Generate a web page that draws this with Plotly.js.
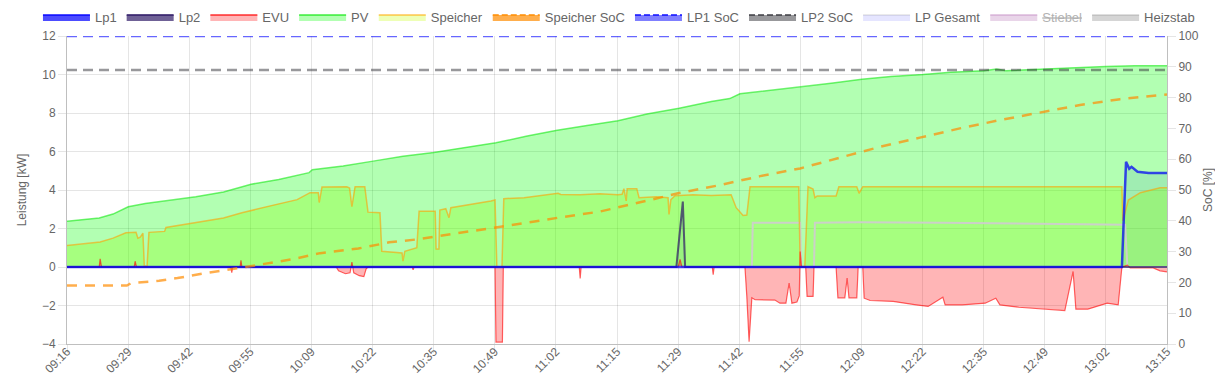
<!DOCTYPE html>
<html>
<head>
<meta charset="utf-8">
<script src="https://cdn.plot.ly/plotly-3.0.1.min.js"></script>
<style>html,body{margin:0;padding:0;background:#fff;}#chart{width:1215px;height:378px;}</style>
</head>
<body>
<div id="chart"></div>
<script>
// x values: minutes after 09:16
const tickLabels = ["09:16","09:29","09:42","09:55","10:09","10:22","10:35","10:49","11:02","11:15","11:29","11:42","11:55","12:09","12:22","12:35","12:49","13:02","13:15"];
const totalMinutes = 239;

const lp1T = [0, 229.2, 230.1, 230.8, 231.3, 232.6, 235, 239];
const lp1V = [0, 0, 5.47, 5.1, 5.2, 4.95, 4.88, 4.88];

const lp2T = [0, 132.4, 133.8, 134.3, 239];
const lp2V = [0, 0, 3.4, 0, 0];

const evuT = [0, 7.0, 7.2, 7.5, 14.6, 14.8, 15.1, 35.6, 35.8, 36.0, 37.6, 37.8, 38.0, 58.5, 59, 60.5, 61.5, 61.9, 62.3, 63.5, 64.5, 65.0, 65.4, 75.0, 75.2, 75.4, 93.0, 93.2, 94.6, 94.8, 111.3, 111.5, 111.7, 132.8, 133.2, 133.6, 140.2, 140.4, 140.6, 147.3, 147.7, 148.2, 148.8, 149.5, 153.8, 154.9, 156.2, 156.9, 157.5, 158.6, 159.1, 159.3, 159.6, 160.5, 160.8, 162.1, 162.3, 167.1, 167.5, 169.0, 169.5, 169.9, 171.6, 171.9, 172.9, 173.2, 174.5, 179.5, 184.5, 187.1, 190.3, 190.8, 194.5, 199.5, 201.8, 202.7, 206.8, 213.6, 216.8, 218.6, 219.2, 221.8, 226.0, 228.4, 229.2, 230.4, 231, 236, 237.5, 239];
const evuV = [0, 0, 0.42, 0, 0, 0.3, 0, 0, -0.3, 0, 0, 0.35, 0, 0, -0.2, -0.35, -0.3, 0.25, -0.3, -0.45, -0.5, -0.1, 0, 0, -0.15, 0, 0, -3.9, -3.9, 0, 0, -0.6, 0, 0, 0.4, 0, 0, -0.4, 0, 0, -1.5, -3.88, -1.6, -1.7, -1.72, -1.88, -1.88, -0.83, -1.88, -1.82, -1.5, 0.8, 0, 0, -1.53, -1.53, 0, 0, -1.6, -1.6, -0.57, -1.6, -1.6, 0, 0, -1.62, -1.74, -1.79, -1.97, -2.05, -1.57, -1.97, -1.97, -1.88, -1.62, -1.97, -2.09, -2.19, -2.26, -0.23, -2.19, -2.19, -1.88, -1.97, 0, 0.1, -0.05, -0.05, -0.2, -0.25];

const pvT = [0, 3, 7, 10, 13.3, 17, 23, 28, 34, 40, 46, 52.6, 53.3, 60, 66.5, 73, 79.7, 86, 93.2, 100, 106.5, 113, 119.7, 126, 133, 140, 144, 146.2, 152, 159.5, 166, 172.7, 179, 186, 192, 199.2, 202, 204, 212.5, 220.7, 225.7, 232, 239];
const pvV = [2.38, 2.45, 2.55, 2.75, 3.13, 3.3, 3.48, 3.65, 3.9, 4.3, 4.55, 4.9, 5.05, 5.25, 5.5, 5.75, 5.95, 6.2, 6.45, 6.8, 7.1, 7.35, 7.6, 7.95, 8.25, 8.6, 8.75, 9.0, 9.15, 9.35, 9.55, 9.75, 9.9, 10.0, 10.12, 10.2, 10.28, 10.2, 10.3, 10.38, 10.42, 10.45, 10.45];

const spT = [0, 4, 7.2, 10, 12.8, 15.0, 15.4, 15.9, 16.5, 16.8, 17.4, 17.8, 21.2, 21.5, 28, 34, 38, 45.2, 50, 52.8, 54.6, 54.8, 55.2, 55.4, 60.8, 61.4, 61.9, 62.4, 62.6, 64.7, 65.4, 68.0, 68.4, 72.8, 73.0, 73.4, 76.0, 76.5, 80.0, 80.2, 80.8, 81.0, 82.3, 83.0, 83.4, 92.1, 93.0, 93.4, 94.5, 94.9, 99.3, 106.7, 107.3, 111.5, 115.8, 119.7, 120.6, 121.0, 121.5, 121.7, 123.8, 124.3, 128, 130.6, 130.8, 131.2, 132.1, 136, 140, 144.3, 145.4, 146.9, 147.7, 148.4, 159.0, 159.3, 160.3, 161.0, 162.1, 162.5, 163.0, 167.1, 167.7, 171.6, 172.1, 172.9, 229.2, 229.4, 230.6, 233.2, 237.5, 239];
const spV = [1.12, 1.2, 1.3, 1.5, 1.78, 1.8, 1.5, 1.55, 1.75, 0.05, 0.05, 1.8, 1.85, 2.05, 2.3, 2.55, 2.82, 3.25, 3.5, 3.86, 3.86, 3.35, 3.85, 4.15, 4.17, 4.1, 3.13, 4.1, 4.17, 4.17, 2.85, 2.82, 0.82, 0.73, 0.3, 0.82, 1.0, 2.9, 2.9, 0.94, 0.94, 2.96, 3.03, 2.56, 3.08, 3.43, 3.48, 0, 0, 3.55, 3.6, 3.83, 3.77, 3.75, 3.8, 3.75, 3.78, 4.07, 3.43, 4.07, 4.07, 3.6, 3.65, 3.6, 2.73, 3.5, 3.7, 3.75, 3.72, 3.75, 3.08, 2.68, 2.7, 4.17, 4.17, 0.03, 0.03, 4.17, 4.05, 3.6, 3.69, 3.69, 4.17, 4.17, 3.83, 4.17, 4.17, 2.4, 3.48, 3.86, 4.12, 4.12];

const spSocT = [0, 13, 14, 20, 24, 30, 38.8, 44, 48.9, 55, 63.3, 70, 76.3, 85, 92.1, 100, 106.7, 115.8, 124.5, 133, 141.9, 150.6, 159.3, 168, 176.6, 185.3, 194, 202.7, 211.4, 220.1, 228.8, 239];
const spSocV = [19, 19, 19.8, 20.5, 21.4, 23.0, 25, 26.2, 27.5, 29.5, 31, 33, 34, 36, 37.5, 39.4, 41, 43, 46, 49, 51.6, 54.5, 57, 60.5, 64, 67, 70, 72.7, 75.2, 77.6, 79.5, 81];

const lp1SocT = [0, 239];
const lp1SocV = [100, 100];
const lp2SocT = [0, 239];
const lp2SocV = [89, 89];

const lpGesT = [0, 132.4, 133.8, 134.3, 229.2, 230.1, 230.8, 231.3, 232.6, 235, 239];
const lpGesV = [0, 0, 3.4, 0, 0, 5.47, 5.1, 5.2, 4.95, 4.88, 4.88];

const heizT = [0, 148.8, 149.0, 159.3, 159.5, 162.3, 162.5, 172, 190, 210, 229.9, 230.4, 239];
const heizV = [0, 0, 2.3, 2.3, 0, 0, 2.3, 2.32, 2.3, 2.25, 2.2, 0, 0];

// legend entries (names in legend order)
const legendNames = ['Lp1', 'Lp2', 'EVU', 'PV', 'Speicher', 'Speicher SoC', 'LP1 SoC', 'LP2 SoC', 'LP Gesamt', 'Stiebel', 'Heizstab'];

const FONT = 'Liberation Sans, Arial, Helvetica, sans-serif';

const styles = {
  'Lp1':          {line: 'rgba(0,0,255,0.7)',    fill: 'rgba(0,0,255,0.7)',    dash: 'solid'},
  'Lp2':          {line: 'rgba(50,30,105,0.8)',  fill: 'rgba(50,30,105,0.7)',  dash: 'solid'},
  'EVU':          {line: 'rgba(255,0,0,0.6)',    fill: 'rgba(255,10,13,0.3)',  dash: 'solid'},
  'PV':           {line: 'rgba(0,230,0,0.55)',   fill: 'rgba(0,255,0,0.3)',    dash: 'solid'},
  'Speicher':     {line: 'rgba(255,170,0,0.5)',  fill: 'rgba(200,255,13,0.3)', dash: 'solid'},
  'Speicher SoC': {line: 'rgba(255,140,0,0.75)', fill: 'rgba(255,140,0,0.7)',  dash: '6px,3px'},
  'LP1 SoC':      {line: 'rgba(0,0,255,0.7)',    fill: 'rgba(0,0,255,0.5)',    dash: '6px,3px'},
  'LP2 SoC':      {line: 'rgba(50,50,55,0.7)',   fill: 'rgba(50,50,55,0.5)',   dash: '6px,3px'},
  'LP Gesamt':    {line: 'rgba(50,50,55,0.1)',   fill: 'rgba(0,0,255,0.1)',    dash: 'solid'},
  'Stiebel':      {line: 'rgba(150,50,150,0.5)', fill: 'rgba(150,50,150,0.4)', dash: 'solid'},
  'Heizstab':     {line: 'rgba(150,150,150,0.3)',fill: 'rgba(150,150,150,0.4)',dash: 'solid'}
};

const base = {showlegend: false, hoverinfo: 'skip'};

// 1) all area fills first (Chart.js draws every fill beneath every line), reversed dataset order
const fillTraces = [
  {x: lpGesT, y: lpGesV, fillcolor: 'rgba(0,0,255,0.1)'},
  {x: spT, y: spV, fillcolor: 'rgba(200,255,13,0.3)'},
  {x: pvT, y: pvV, fillcolor: 'rgba(0,255,0,0.3)'},
  {x: evuT, y: evuV, fillcolor: 'rgba(255,10,13,0.3)'}
].map(t => Object.assign({mode: 'none', fill: 'tozeroy'}, base, t));

// 2) lines, reversed dataset order (Lp1 on top)
const lineTraces = [
  {name: 'Heizstab', x: heizT, y: heizV, line: {color: 'rgba(205,205,205,0.95)', width: 2}},
  {name: 'LP Gesamt', x: lpGesT, y: lpGesV, line: {color: 'rgba(50,50,55,0.1)', width: 2}},
  {name: 'LP2 SoC', x: lp2SocT, y: lp2SocV, yaxis: 'y2', line: {color: 'rgba(50,50,55,0.5)', width: 2.5, dash: '10px,6px'}},
  {name: 'LP1 SoC', x: lp1SocT, y: lp1SocV, yaxis: 'y2', line: {color: 'rgba(0,0,255,0.6)', width: 2.5, dash: '10px,6px'}},
  {name: 'Speicher SoC', x: spSocT, y: spSocV, yaxis: 'y2', line: {color: 'rgba(255,140,0,0.7)', width: 2.5, dash: '10px,8px'}},
  {name: 'Speicher', x: spT, y: spV, line: {color: 'rgba(255,160,0,0.6)', width: 1.5}},
  {name: 'PV', x: pvT, y: pvV, line: {color: 'rgba(0,230,0,0.55)', width: 1.5}},
  {name: 'EVU', x: evuT, y: evuV, line: {color: 'rgba(255,0,0,0.6)', width: 1.2}},
  {name: 'Lp2', x: lp2T, y: lp2V, line: {color: 'rgba(50,30,105,0.7)', width: 2}},
  {name: 'Lp1', x: lp1T, y: lp1V, line: {color: 'rgba(0,0,255,0.7)', width: 2.5}}
].map(t => Object.assign({mode: 'lines'}, base, t));

// legend boxes (Chart.js style: filled box with border)
const legendTraces = legendNames.map((n, i) => ({
  name: n === 'Stiebel' ? '<s>Stiebel</s>' : n,
  x: [null], y: [null], mode: 'lines', fill: 'toself',
  fillcolor: styles[n].fill,
  line: {color: styles[n].line, width: 2, dash: styles[n].dash},
  legendrank: i + 1,
  visible: n === 'Stiebel' ? 'legendonly' : true
}));

const tickVals = tickLabels.map((_, i) => i * totalMinutes / (tickLabels.length - 1));

const gridCol = 'rgba(0,0,0,0.1)';
const layout = {
  width: 1215, height: 378,
  margin: {l: 67, r: 48, t: 36, b: 34, pad: 0, autoexpand: false},
  paper_bgcolor: '#fff', plot_bgcolor: '#fff',
  font: {family: FONT, size: 12, color: '#666'},
  showlegend: true,
  legend: {orientation: 'h', x: -0.0264, xanchor: 'left', y: 1.0617, yanchor: 'middle', traceorder: 'normal', itemwidth: 47,
           font: {family: FONT, size: 13, color: '#666'}, bgcolor: 'rgba(0,0,0,0)'},
  xaxis: {range: [0, totalMinutes], tickmode: 'array', tickvals: tickVals, ticktext: tickLabels, tickangle: -45,
          showgrid: true, gridcolor: gridCol, ticks: 'outside', ticklen: 8, tickcolor: gridCol, ticklabelstandoff: -13,
          showline: true, linecolor: 'rgba(0,0,0,0.25)', zeroline: false, tickfont: {size: 12, color: '#666'}},
  yaxis: {range: [-4, 12], dtick: 2, tick0: 0, showgrid: true, gridcolor: gridCol, ticks: 'outside', ticklen: 8, tickcolor: gridCol,
          showline: true, linecolor: 'rgba(0,0,0,0.25)', zeroline: false, tickfont: {size: 12, color: '#666'},
          title: {text: 'Leistung [kW]', font: {size: 12, color: '#666'}, standoff: 12}},
  yaxis2: {range: [0, 100], dtick: 10, tick0: 0, overlaying: 'y', side: 'right', showgrid: false, ticks: 'outside', ticklen: 8, tickcolor: gridCol,
           showline: true, linecolor: 'rgba(0,0,0,0.25)', zeroline: false, tickfont: {size: 12, color: '#666'},
           title: {text: 'SoC [%]', font: {size: 12, color: '#666'}, standoff: 30}}
};

Plotly.newPlot('chart', fillTraces.concat(lineTraces, legendTraces), layout, {displayModeBar: false, staticPlot: true});
</script>
</body>
</html>
